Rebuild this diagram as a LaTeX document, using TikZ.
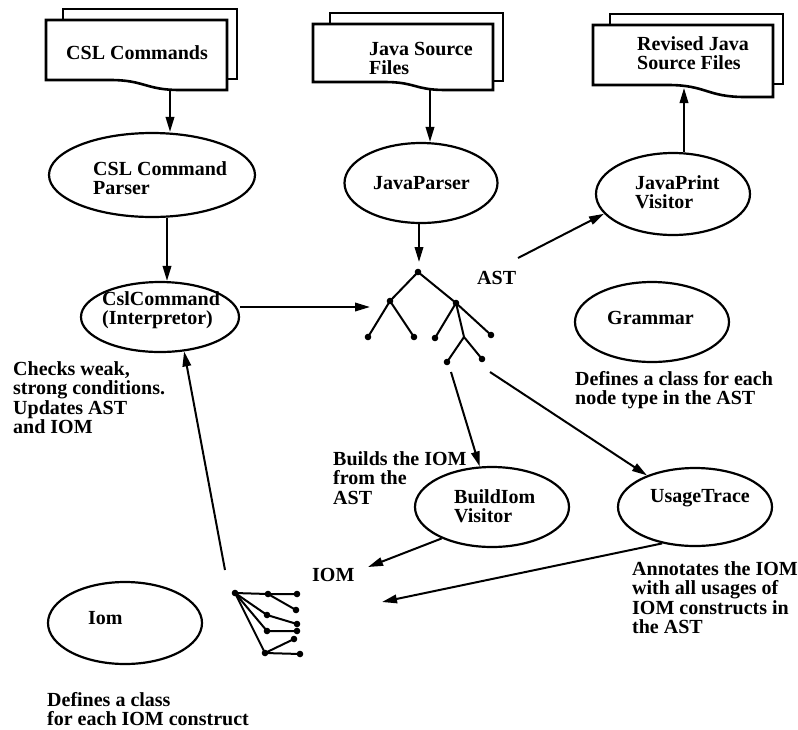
\documentclass[tikz,border=0pt]{standalone}
\usepackage{fontspec}
\setmainfont{Liberation Serif}
\usetikzlibrary{arrows.meta,shapes.geometric,calc}
\tikzset{
 txt/.style={font=\fontsize{20}{19.5}\selectfont\bfseries, inner sep=0pt, align=left, anchor=north west},
 ell/.style={draw, ellipse, line width=2.2pt, inner sep=0pt},
 arr/.style={line width=2pt, -{Triangle[length=15pt,width=8.5pt]}},
 docline/.style={line width=2.6pt, fill=white, line join=miter},
 br/.style={line width=2pt},
 dot/.style={fill=black}
}
% #1 L, #2 R, #3 T, #4 bottom-left, #5 bottom-right, #6 dip start, #7 dip end
\newcommand\drawdoc[7]{%
 \draw[docline] (#1+17,#3-11) rectangle (#2+10,#4-1);
 \draw[docline] (#1,#3) -- (#2,#3) -- (#2,#5) -- (#7,#5)
   .. controls ({(#6+#7)/2},#5) and ({(#6+#7)/2},#4) .. (#6,#4) -- (#1,#4) -- cycle;
}
\begin{document}
\begin{tikzpicture}[x=1pt,y=-1pt]
\useasboundingbox (0,0) rectangle (798,729);

% documents
\drawdoc{46}{227}{20}{80}{90}{110}{180}
\drawdoc{313}{493}{24}{82}{90}{385}{445}
\drawdoc{593}{773}{25}{85}{97}{668}{745}
\node[txt] (csltxt) at (66,45) {CSL Commands};
\node[txt] (jstxt) at (369,42) {Java Source\\Files};
\node[txt] (revtxt) at (637,36) {Revised Java\\Source Files};
\coordinate (cslBot) at (170,89);
\coordinate (jsBot) at (430,89);
\coordinate (revBot) at (684,88);

% ellipses
\node[ell, minimum width=206pt, minimum height=84pt] (parser) at (152,175) {};
\node[ell, minimum width=158pt, minimum height=70pt] (cslcmd) at (160,317) {};
\node[ell, minimum width=153pt, minimum height=80pt] (jparser) at (421,183) {};
\node[ell, minimum width=154pt, minimum height=82pt] (jprint) at (673,194) {};
\node[ell, minimum width=154pt, minimum height=80pt] (grammar) at (652,322) {};
\node[ell, minimum width=154pt, minimum height=80pt] (buildiom) at (492,507) {};
\node[ell, minimum width=154pt, minimum height=78pt] (usage) at (695,507) {};
\node[ell, minimum width=154pt, minimum height=82pt] (iom) at (125,623) {};

% ellipse texts
\node[txt] (parsertxt) at (93,161) {CSL Command\\Parser};
\node[txt] (cslcmdtxt) at (102,291) {CslCommand\\(Interpretor)};
\node[txt] (jparsertxt) at (373,176) {JavaParser};
\node[txt] (jprinttxt) at (635,175) {JavaPrint\\Visitor};
\node[txt] (grammartxt) at (607,311) {Grammar};
\node[txt] (buildtxt) at (454,489) {BuildIom\\Visitor};
\node[txt] (usagetxt) at (650,489) {UsageTrace};
\node[txt] (iomtxt) at (88,611) {Iom};

% free texts
\node[txt] (asttxt) at (477,271) {AST};
\node[txt] (iomlbl) at (312,568) {IOM};
\node[txt] (checks) at (13,361) {Checks weak,\\strong conditions.\\Updates AST\\and IOM};
\node[txt] (gramdesc) at (575,371) {Defines a class for each\\node type in the AST};
\node[txt] (builds) at (333,451) {Builds the IOM\\from the\\AST};
\node[txt] (annot) at (632,561) {Annotates the IOM\\with all usages of\\IOM constructs in\\the AST};
\node[txt] (iomdesc) at (47,692) {Defines a class\\for each IOM construct};

% AST tree
\coordinate (r) at (418,272);
\coordinate (l) at (390,301);
\coordinate (rr) at (456,303);
\coordinate (l1) at (368,337);
\coordinate (l2) at (414,337);
\coordinate (r1) at (435,338);
\coordinate (rb) at (464,337);
\coordinate (r2) at (491,335);
\coordinate (rb1) at (447,362);
\coordinate (rb2) at (482,359);
\draw[br] (l1) -- (l) -- (r) -- (rr) -- (r2);
\draw[br] (l) -- (l2);
\draw[br] (rr) -- (r1);
\draw[br] (rr) -- (rb);
\draw[br] (rb1) -- (rb) -- (rb2);
\foreach \p in {r,l,rr,l1,l2,r1,r2,rb1,rb2} \fill[dot] (\p) circle (3.3pt);

% IOM tree
\coordinate (i0) at (235,593);
\coordinate (i1) at (268,594);
\coordinate (i1a) at (297,594);
\coordinate (i1b) at (296,610);
\coordinate (i2) at (267,615);
\coordinate (i2a) at (297,624);
\coordinate (i3) at (267,631);
\coordinate (i3a) at (297,631);
\coordinate (i4) at (265,653);
\coordinate (i4a) at (294,639);
\coordinate (i4b) at (300,654);
\draw[br] (i0) -- (i1) -- (i1a);
\draw[br] (i1) -- (i1b);
\draw[br] (i0) -- (i2) -- (i2a);
\draw[br] (i0) -- (i3) -- (i3a);
\draw[br] (i0) -- (i4) -- (i4a);
\draw[br] (i4) -- (i4b);
\foreach \p in {i0,i1,i1a,i1b,i2,i2a,i3,i3a,i4,i4a,i4b} \fill[dot] (\p) circle (3.3pt);

% connector end points
\coordinate (astIn) at (370,307);
\coordinate (astTip) at (419,262);
\coordinate (astOut) at (518,258);
\coordinate (buildStart) at (451,372);
\coordinate (usageStart) at (490,372);
\coordinate (iomIn) at (368,567);
\coordinate (usageTip) at (382,602);
\coordinate (cslUp) at (225,570);

% arrows
\draw[arr] (cslBot) -- (cslBot |- parser.north);
\draw[arr] ([xshift=15pt]parser.south) -- ([xshift=7pt]cslcmd.north);
\draw[arr] (cslcmd.east |- astIn) -- (astIn);
\draw[arr] (jsBot) -- (jsBot |- jparser.north);
\draw[arr] (astTip |- jparser.south) -- (astTip);
\draw[arr] (astOut) -- (jprint.196);
\draw[arr] (revBot |- jprint.north) -- (revBot);
\draw[arr] (buildStart) -- (buildiom);
\draw[arr] (usageStart) -- (usage);
\draw[arr] (buildiom.212) -- (iomIn);
\draw[arr] (usage.228) -- (usageTip);
\draw[arr] (cslUp) -- (cslcmd.-55);
\end{tikzpicture}
\end{document}
